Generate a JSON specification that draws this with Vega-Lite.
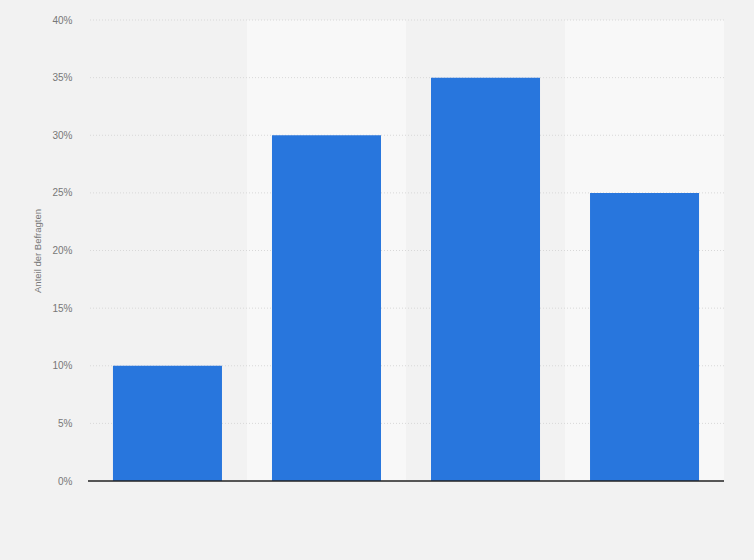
{
  "$schema": "https://vega.github.io/schema/vega-lite/v6.json",
  "width": 636,
  "height": 461,
  "autosize": {"type": "none"},
  "padding": {"left": 88, "top": 20, "right": 30, "bottom": 79},
  "background": "#f2f2f2",
  "config": {"view": {"stroke": null}, "font": "Liberation Sans"},
  "datasets": {
    "umfrage": [
      {"kategorie": "1", "anteil": 10},
      {"kategorie": "2", "anteil": 30},
      {"kategorie": "3", "anteil": 35},
      {"kategorie": "4", "anteil": 25}
    ],
    "raster": [
      {"wert": 5}, {"wert": 10}, {"wert": 15}, {"wert": 20},
      {"wert": 25}, {"wert": 30}, {"wert": 35}, {"wert": 40}
    ]
  },
  "layer": [
    {
      "data": {"name": "umfrage"},
      "transform": [{"filter": "datum.kategorie == '2' || datum.kategorie == '4'"}],
      "mark": {"type": "bar", "color": "#f8f8f8", "width": {"band": 1.4587}},
      "encoding": {
        "x": {"field": "kategorie", "type": "nominal", "axis": null,
              "scale": {"paddingInner": 0.3145, "paddingOuter": 0.157}},
        "y": {"datum": 40, "type": "quantitative"}
      }
    },
    {
      "data": {"name": "raster"},
      "mark": {"type": "rule", "color": "#d8d8d8", "strokeDash": [1, 2], "strokeWidth": 1},
      "encoding": {"y": {"field": "wert", "type": "quantitative"}}
    },
    {
      "data": {"name": "umfrage"},
      "mark": {"type": "bar", "color": "#2876dd"},
      "encoding": {
        "x": {"field": "kategorie", "type": "nominal", "axis": null},
        "y": {
          "field": "anteil",
          "type": "quantitative",
          "scale": {"domain": [0, 40], "nice": false},
          "axis": {
            "title": "Anteil der Befragten",
            "values": [0, 5, 10, 15, 20, 25, 30, 35, 40],
            "labelExpr": "datum.value + '%'",
            "grid": false,
            "domain": false,
            "ticks": false,
            "labelPadding": 16,
            "labelColor": "#777777",
            "labelFontSize": 10,
            "titleColor": "#777777",
            "titleFontSize": 9.5,
            "titleFontWeight": "normal",
            "titlePadding": 9
          }
        }
      }
    },
    {
      "data": {"values": [{}]},
      "mark": {"type": "rule", "color": "#222222", "strokeWidth": 1.5},
      "encoding": {"y": {"datum": 0, "type": "quantitative"}}
    }
  ]
}
